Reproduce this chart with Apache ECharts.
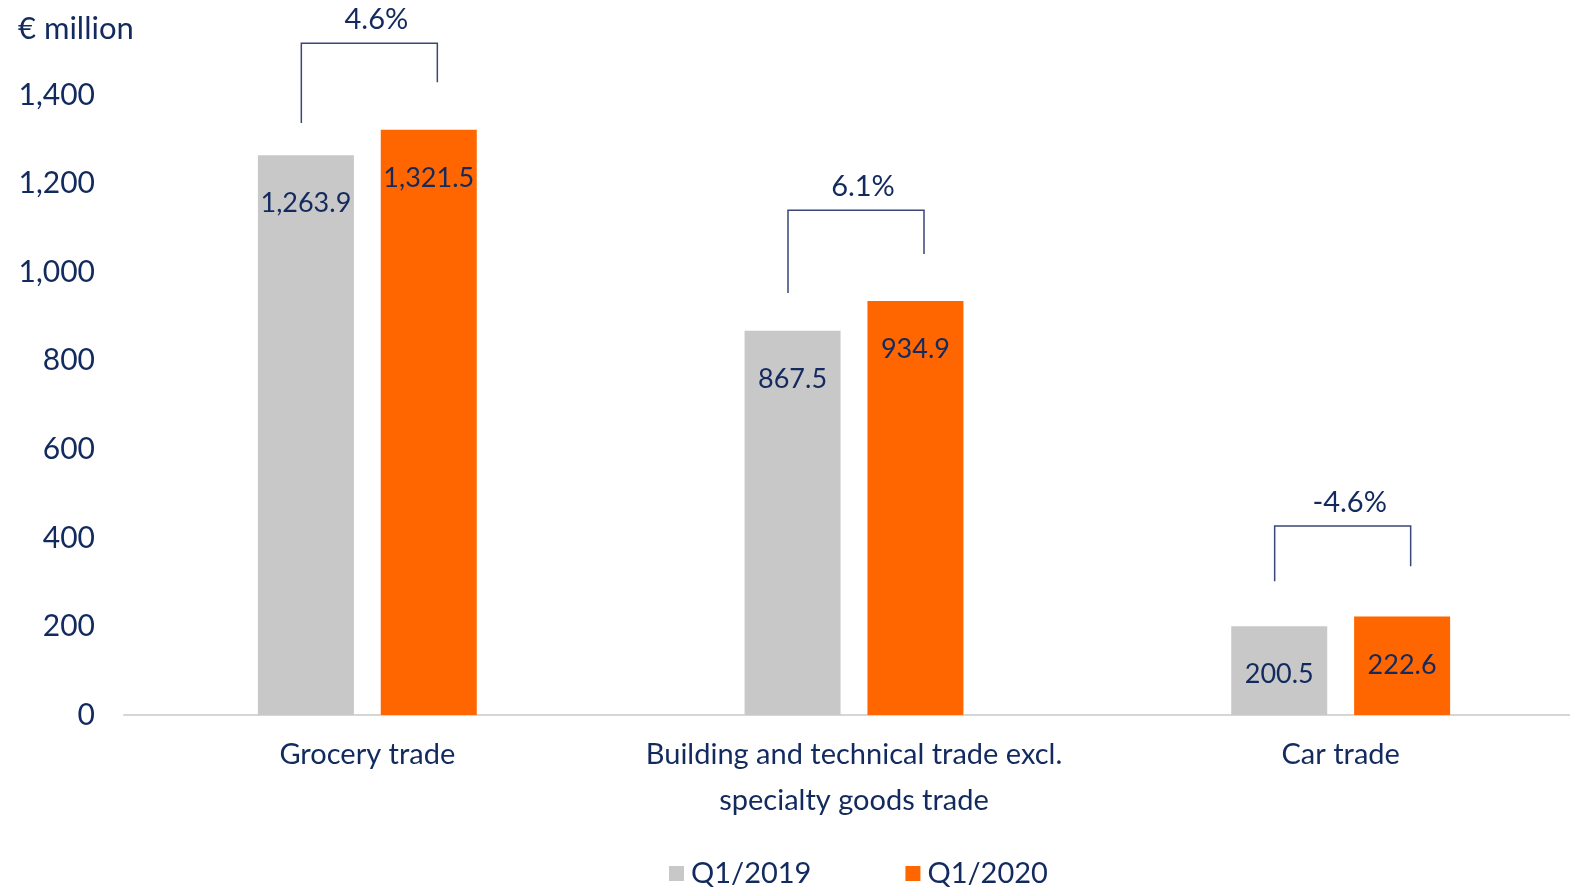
<!DOCTYPE html>
<html><head><meta charset="utf-8">
<script src="https://cdn.jsdelivr.net/npm/echarts@6/dist/echarts.min.js"></script>
<style>html,body{margin:0;padding:0;background:#fff}#c{width:1570px;height:888px}</style>
</head><body><div id="c"></div>
<script>
const categories = ['Grocery trade', 'Building and technical trade excl.\nspecialty goods trade', 'Car trade'];
const q12019 = [1263.9, 867.5, 200.5];
const q12020 = [1321.5, 934.9, 222.6];
const seriesNames = ['Q1/2019', 'Q1/2020'];
// bracket: [category index, left leg bottom, right leg bottom, top, label]
const brackets = [
  [0, 1337, 1429, 1517, '4.6%'],
  [1, 953, 1041, 1140, '6.1%'],
  [2, 302, 336, 427, '-4.6%']
];
const yTicks = {min: 0, max: 1400, interval: 200};

const NAVY = '#122a5e';
const FONT = 'Lato';
const chart = echarts.init(document.getElementById('c'), null, {renderer: 'canvas'});
const fmt = v => v.toLocaleString('en-US', {minimumFractionDigits: 1, maximumFractionDigits: 1});

chart.setOption({
  animation: false,
  textStyle: {fontFamily: FONT, color: NAVY},
  grid: {left: 124, width: 1460, top: 95, bottom: 173, containLabel: false, outerBoundsMode: 'none'},
  graphic: [{type: 'text', left: 18, top: 13, style: {text: '€ million', font: '31px ' + FONT, fill: NAVY}}],
  legend: {
    left: 664, bottom: -5, itemWidth: 15, itemHeight: 15, itemGap: 94, icon: 'rect',
    textStyle: {fontSize: 29, color: NAVY, fontFamily: FONT, padding: [0, 0, 0, 2]},
    data: seriesNames
  },
  xAxis: {
    type: 'category', data: categories,
    axisLine: {lineStyle: {color: '#d6d6d6', width: 2}},
    axisTick: {show: false},
    axisLabel: {fontSize: 29, color: NAVY, fontFamily: FONT, lineHeight: 46, margin: 17, interval: 0}
  },
  yAxis: {
    type: 'value', min: yTicks.min, max: yTicks.max, interval: yTicks.interval,
    splitLine: {show: false}, axisLine: {show: false}, axisTick: {show: false},
    axisLabel: {fontSize: 30, color: NAVY, fontFamily: FONT, margin: 29,
      formatter: v => v.toLocaleString('en-US')}
  },
  series: [
    {
      name: seriesNames[0], type: 'bar', data: q12019, barWidth: 96, barGap: '28%',
      itemStyle: {color: '#c8c8c8'},
      label: {show: true, position: 'insideTop', distance: 35, fontSize: 27, color: NAVY, fontFamily: FONT, formatter: p => fmt(p.value)}
    },
    {
      name: seriesNames[1], type: 'bar', data: q12020, barWidth: 96,
      itemStyle: {color: '#ff6600'},
      label: {show: true, position: 'insideTop', distance: 35, fontSize: 27, color: NAVY, fontFamily: FONT, formatter: p => fmt(p.value)}
    },
    {
      type: 'custom', clip: false, silent: true, z: 10,
      data: brackets,
      encode: {x: 0, y: 3},
      renderItem: function (params, api) {
        const ci = api.value(0);
        const c = api.coord([ci, 0])[0];
        const xl = c - 66, xr = c + 70;
        const yl = api.coord([ci, api.value(1)])[1];
        const yr = api.coord([ci, api.value(2)])[1];
        const yt = api.coord([ci, api.value(3)])[1];
        const lbl = brackets[params.dataIndex][4];
        return {
          type: 'group',
          children: [
            {type: 'polyline', shape: {points: [[xl, yl], [xl, yt], [xr, yt], [xr, yr]]},
              style: {stroke: '#3a4778', lineWidth: 1.5, fill: null}},
            {type: 'text', x: (xl + xr) / 2 + 7, y: yt - 9,
              style: {text: lbl, font: '29px ' + FONT, fill: NAVY, textAlign: 'center', textVerticalAlign: 'bottom'}}
          ]
        };
      }
    }
  ]
});
</script></body></html>
